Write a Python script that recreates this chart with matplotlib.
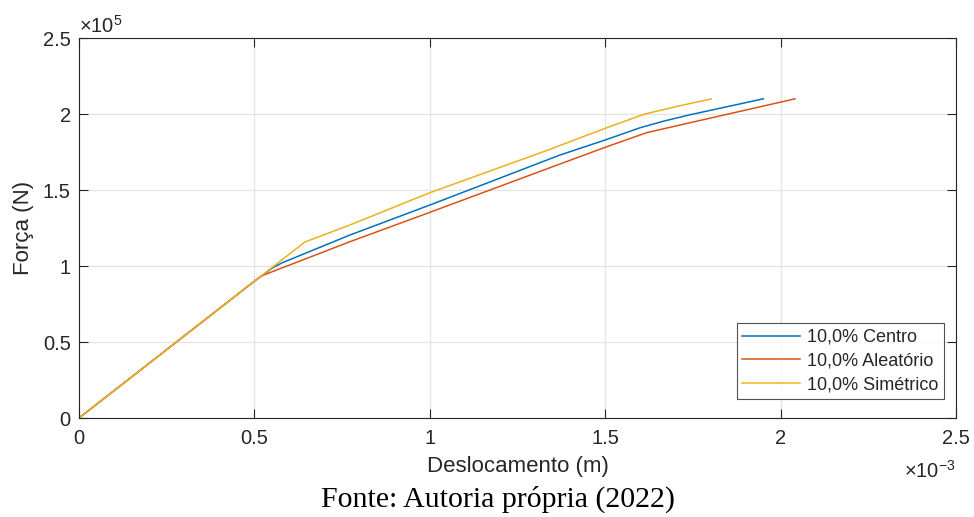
import numpy as np
import matplotlib
matplotlib.use("Agg")
import matplotlib.pyplot as plt
from matplotlib.ticker import FuncFormatter

# Displacement in units of 1e-3 m, force in units of 1e5 N
centro_x = [0.0, 0.50, 0.553, 0.58, 0.7725, 1.0, 1.371, 1.5, 1.60, 1.67, 1.742, 1.951]
centro_y = [0.0, 0.90, 0.990, 1.022, 1.204, 1.401, 1.730, 1.829, 1.910, 1.955, 1.995, 2.100]

aleat_x = [0.0, 0.50, 0.52, 0.7725, 1.0, 1.371, 1.5, 1.618, 1.714, 2.0, 2.041]
aleat_y = [0.0, 0.90, 0.935, 1.160, 1.353, 1.671, 1.781, 1.877, 1.928, 2.078, 2.100]

simet_x = [0.0, 0.50, 0.644, 0.7725, 1.0, 1.337, 1.5, 1.613, 1.714, 1.802]
simet_y = [0.0, 0.90, 1.158, 1.270, 1.482, 1.763, 1.906, 2.000, 2.055, 2.099]

labels = ["10,0% Centro", "10,0% Aleatório", "10,0% Simétrico"]
colors = ["#0072BD", "#D95319", "#EDB120"]

xticks = [0, 0.5, 1, 1.5, 2, 2.5]
yticks = [0, 0.5, 1, 1.5, 2, 2.5]

plt.rcParams['font.family'] = ['Liberation Sans', 'DejaVu Sans']
plt.rcParams['mathtext.fontset'] = 'custom'
plt.rcParams['mathtext.rm'] = 'Liberation Sans'
plt.rcParams['mathtext.it'] = 'Liberation Sans'
dark = "#262626"

fig = plt.figure(figsize=(9.74, 5.17), dpi=100)
ax = fig.add_axes([79/974, 1 - 418/517, (956-79)/974, (418-38)/517])

for xs, ys, lab, c in zip([centro_x, aleat_x, simet_x],
                          [centro_y, aleat_y, simet_y], labels, colors):
    ax.plot(xs, ys, color=c, lw=1.1, label=lab)

ax.set_xlim(0, 2.5)
ax.set_ylim(0, 2.5)
ax.set_xticks(xticks)
ax.set_yticks(yticks)
fmt = FuncFormatter(lambda v, p: f"{v:g}")
ax.xaxis.set_major_formatter(fmt)
ax.yaxis.set_major_formatter(fmt)

ax.grid(True, color="#e3e3e3", lw=0.9)
ax.set_axisbelow(True)
for s in ax.spines.values():
    s.set_color(dark)
    s.set_linewidth(0.8)
ax.tick_params(direction="in", length=6.5, width=0.8, colors=dark,
               labelsize=14.5, top=True, right=True)
ax.tick_params(axis="x", pad=8)
ax.tick_params(axis="y", pad=6)

ax.set_xlabel("Deslocamento (m)", fontsize=16, color=dark, labelpad=6)
ax.set_ylabel("Força (N)", fontsize=16, color=dark, labelpad=6)

ax.text(0.0, 1.003, "×10$^{5}$", transform=ax.transAxes,
        fontsize=14.5, color=dark, ha="left", va="bottom")
ax.text(1.0, -0.11, "×10$^{-3}$", transform=ax.transAxes,
        fontsize=14.5, color=dark, ha="right", va="top")

leg = ax.legend(loc="lower right", bbox_to_anchor=(944/974, 1 - 399/517),
                bbox_transform=fig.transFigure, fontsize=13,
                frameon=True, fancybox=False, handlelength=3.2,
                borderpad=0.3, labelspacing=0.38, handletextpad=0.4,
                borderaxespad=0)
leg.get_frame().set_edgecolor(dark)
leg.get_frame().set_linewidth(0.8)
for t in leg.get_texts():
    t.set_color(dark)

fig.text(498/974, 1 - 499/517, "Fonte: Autoria própria (2022)",
         family="Liberation Serif", fontsize=21.5, color="black",
         ha="center", va="center")

fig.savefig("out.png", dpi=100, facecolor="white")
